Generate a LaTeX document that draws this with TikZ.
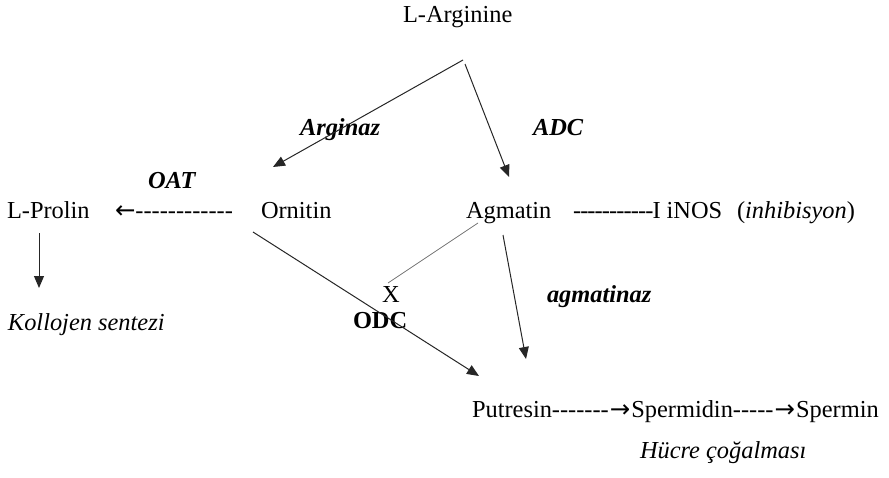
\documentclass[tikz,border=0pt]{standalone}
\usepackage{fontspec}
\setmainfont{Liberation Serif}[Ligatures=TeXOff]
\newfontfamily\arw{DejaVu Sans}
\usetikzlibrary{arrows.meta}
\newcommand\hh{-\kern-0.45pt}
\begin{document}
\begin{tikzpicture}[x=0.5pt,y=-0.5pt,
  lbl/.style={anchor=base west,inner sep=0pt,outer sep=0pt,font=\fontsize{12.2}{14.6}\selectfont},
  enz/.style={lbl,font=\fontsize{12.2}{14.6}\selectfont\bfseries\itshape},
  conn/.style={line width=0.5pt,draw=black!85,-{Triangle[length=6pt,width=5pt]}},
  blockline/.style={line width=0.4pt,draw=black!55}]
\useasboundingbox (0,0) rectangle (889,477);
% nodes
\node[lbl] (larg) at (403,22) {L-Arginine};
\node[enz] (argz) at (300,135) {Arginaz};
\node[enz] (adc) at (533,135) {ADC};
\node[enz] (oat) at (148,188) {OAT};
\node[lbl] (lpro) at (7,218) {L-Prolin};
\node[lbl] (oatarr) at (115,218) {{\arw ←}------------};
\node[lbl] (orn) at (261,218) {Ornitin};
\node[lbl] (agm) at (466,218) {Agmatin};
\node[lbl] (inos) at (573,218) {\hh\hh\hh\hh\hh\hh\hh\hh\hh\hh\hh I iNOS};
\node[lbl] (inh) at (737,218) {(\textit{inhibisyon})};
\node[lbl] (xmark) at (382,302) {X};
\node[lbl,font=\fontsize{12.2}{14.6}\selectfont\bfseries] (odc) at (353,328) {ODC};
\node[enz] (agmz) at (547,302) {agmatinaz};
\node[lbl,font=\fontsize{12.2}{14.6}\selectfont\itshape] (kol) at (8,330) {Kollojen sentezi};
\node[lbl] (put) at (472,417) {Putresin};
\node[lbl] (d1) at (put.base east) {-------{\arw\kern0.5pt→\kern0.5pt}};
\node[lbl] (spd) at (d1.base east) {Spermidin};
\node[lbl] (d2) at (spd.base east) {-----{\arw\kern0.5pt→\kern0.5pt}};
\node[lbl] (spm) at (d2.base east) {Spermin};
\node[lbl,font=\fontsize{12.2}{14.6}\selectfont\itshape] (hucre) at (640,458) {Hücre çoğalması};
% connector ends
\coordinate (larg-l) at (463,60);
\coordinate (orn-in) at (273,167);
\coordinate (larg-r) at (465,64);
\coordinate (agm-in) at (509,177);
\coordinate (orn-out) at (253,232);
\coordinate (put-in1) at (479,376);
\coordinate (agm-out) at (503,235);
\coordinate (put-in2) at (526,359);
\coordinate (lpro-out) at (39,233);
\coordinate (kol-in) at (39,288);
\coordinate (agm-x) at (478,223);
\coordinate (x-in) at (388,283);
% connectors
\draw[conn] (larg-l) -- (orn-in);
\draw[conn] (larg-r) -- (agm-in);
\draw[conn] (orn-out) -- (put-in1);
\draw[conn] (agm-out) -- (put-in2);
\draw[conn] (lpro-out) -- (kol-in);
\draw[blockline] (agm-x) -- (x-in);
\end{tikzpicture}
\end{document}
